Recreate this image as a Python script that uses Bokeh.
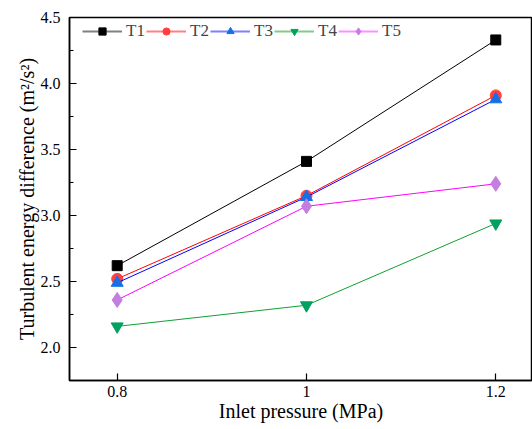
from bokeh.plotting import figure
from bokeh.models import Range1d, FixedTicker, CustomJSTickFormatter, Legend, LegendItem
from bokeh.embed import file_html
from bokeh.resources import INLINE

pressure = [0.8, 1.0, 1.2]
x_ticks = [0.8, 1.0, 1.2]
y_ticks = [2.0, 2.5, 3.0, 3.5, 4.0, 4.5]

T1 = [2.62, 3.41, 4.33]
T2 = [2.52, 3.15, 3.91]
T3 = [2.49, 3.14, 3.88]
T4 = [2.16, 2.32, 2.94]
T5 = [2.36, 3.07, 3.24]

series = [
    ("T1", T1, "#000000", "#000000", "#808080", "square", 10),
    ("T2", T2, "#ff0000", "#ff4040", "#ff8080", "circle", 11),
    ("T3", T3, "#0000ff", "#1470e6", "#8080ff", "triangle", 12),
    ("T4", T4, "#10a030", "#00a060", "#80cc88", "inverted_triangle", 12),
    ("T5", T5, "#ff00ff", "#c47ee0", "#ff90ff", "diamond", 15),
]

FONT = "'Liberation Serif', 'Times New Roman', serif"

p = figure(width=532, height=429, output_backend="svg", toolbar_location=None,
           x_range=Range1d(0.7496, 1.2388), y_range=Range1d(1.75, 4.5),
           min_border_left=69, min_border_top=17, min_border_right=0, min_border_bottom=49)

p.xgrid.visible = False
p.ygrid.visible = False
p.outline_line_color = "black"
p.outline_line_width = 1.5
p.background_fill_color = "white"
p.border_fill_color = "white"

items = []
for name, ys, lc, mc, legc, marker, sz in series:
    p.line(pressure, ys, line_color=lc, line_width=1)
    rl = p.line(pressure, ys, line_color=legc, line_width=2, visible=False)
    r2 = p.scatter(pressure, ys, marker=marker, size=sz, fill_color=mc, line_color=mc)
    items.append(LegendItem(label=name, renderers=[rl, r2]))

xa = p.xaxis[0]
xa.ticker = FixedTicker(ticks=x_ticks)
xa.formatter = CustomJSTickFormatter(code="return tick.toString();")
xa.axis_label = "Inlet pressure (MPa)"
ya = p.yaxis[0]
ya.ticker = FixedTicker(ticks=y_ticks, minor_ticks=[1.75 + 0.25 * i for i in range(12)])
ya.formatter = CustomJSTickFormatter(code="return tick.toFixed(1);")
ya.axis_label = "Turbulent energy difference (m²/s²)"

for ax in (xa, ya):
    ax.axis_line_width = 1.5
    ax.axis_line_color = "black"
    ax.major_tick_in = 7
    ax.major_tick_out = 0
    ax.minor_tick_in = 4
    ax.minor_tick_out = 0
    ax.major_tick_line_width = 1.2
    ax.minor_tick_line_width = 1.2
    ax.major_label_text_font = FONT
    ax.major_label_text_font_size = "16px"
    ax.major_label_text_color = "black"
    ax.axis_label_text_font = FONT
    ax.axis_label_text_font_size = "20px"
    ax.axis_label_text_font_style = "normal"
    ax.axis_label_text_color = "black"
xa.minor_tick_in = 0
xa.major_label_standoff = 5
xa.axis_label_standoff = 0
ya.major_label_standoff = 9
ya.axis_label_standoff = 0

legend = Legend(items=items, orientation="horizontal", location=(13, 339),
                margin=0, padding=4, spacing=0, label_standoff=4,
                glyph_width=40, glyph_height=18,
                label_text_font=FONT, label_text_font_size="17px",
                border_line_color=None, background_fill_alpha=0)
p.add_layout(legend, "center")

open("out.html", "w").write(file_html(p, INLINE))
